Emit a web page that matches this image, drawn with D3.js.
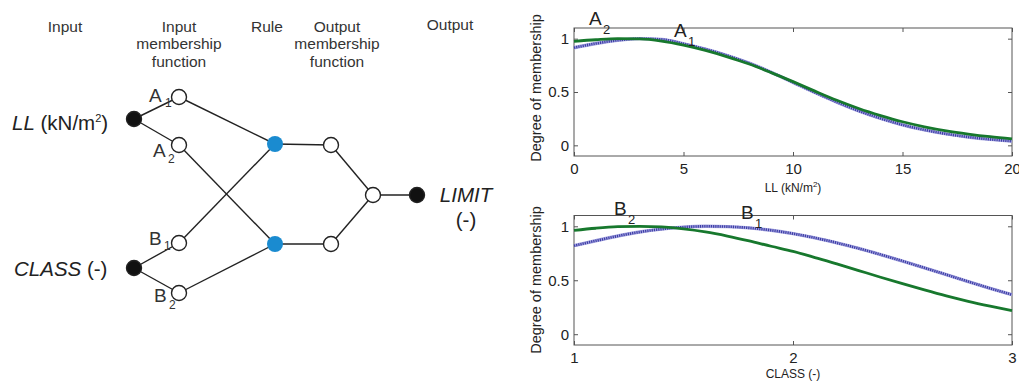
<!DOCTYPE html>
<html>
<head>
<meta charset="utf-8">
<script src="https://cdn.jsdelivr.net/npm/d3@7"></script>
<style>
  body { margin: 0; background: #fff; }
  svg { display: block; font-family: "Liberation Sans", Arial, sans-serif; }
  .axis path { display: none; }
  .axis line { stroke: #555; }
  .axis text { fill: #222; font-size: 15px; font-family: "Liberation Sans", Arial, sans-serif; }
</style>
</head>
<body>
<svg id="chart" width="1019" height="383"></svg>
<script>
// ---- data ----
// top plot: LL (kN/m2) vs degree of membership
const llX = [0, 1, 2, 3, 4, 5, 6, 7, 8, 9, 10, 11, 12, 13, 14, 15, 16, 17, 18, 19, 20];
const llA1 = [0.915, 0.955, 0.985, 1.0, 0.993, 0.952, 0.902, 0.842, 0.77, 0.685, 0.59, 0.495, 0.405, 0.323, 0.252, 0.192, 0.145, 0.107, 0.078, 0.056, 0.039];
const llA2 = [0.975, 0.99, 1.0, 0.998, 0.978, 0.94, 0.89, 0.83, 0.762, 0.682, 0.597, 0.508, 0.422, 0.345, 0.279, 0.221, 0.174, 0.136, 0.106, 0.081, 0.061];

// bottom plot: CLASS (-) vs degree of membership
const classX = [1.0, 1.1, 1.2, 1.3, 1.4, 1.5, 1.6, 1.7, 1.8, 1.9, 2.0, 2.1, 2.2, 2.3, 2.4, 2.5, 2.6, 2.7, 2.8, 2.9, 3.0];
const classB1 = [0.82, 0.866, 0.91, 0.947, 0.974, 0.992, 1.0, 0.997, 0.985, 0.963, 0.932, 0.893, 0.847, 0.795, 0.738, 0.678, 0.615, 0.552, 0.488, 0.425, 0.366];
const classB2 = [0.962, 0.982, 0.996, 1.0, 0.994, 0.976, 0.948, 0.91, 0.865, 0.815, 0.768, 0.71, 0.652, 0.59, 0.528, 0.468, 0.41, 0.355, 0.305, 0.26, 0.218];

const llTicks = [0, 5, 10, 15, 20];
const classTicks = [1, 2, 3];
const yTicks = [0, 0.5, 1];
const yTickLabels = ["0", "0.5", "1"];

// network diagram (fuzzy inference structure)
const headings = [
  { col: 0, lines: ["Input"] },
  { col: 1, lines: ["Input", "membership", "function"] },
  { col: 2, lines: ["Rule"] },
  { col: 3, lines: ["Output", "membership", "function"] },
  { col: 4, lines: ["Output"] }
];
const nodes = [
  { id: "LL", col: 0, row: 119, kind: "io" },
  { id: "CLASS", col: 0, row: 268, kind: "io" },
  { id: "A1", col: 1, row: 97, kind: "mf" },
  { id: "A2", col: 1, row: 145, kind: "mf" },
  { id: "B1", col: 1, row: 243, kind: "mf" },
  { id: "B2", col: 1, row: 293, kind: "mf" },
  { id: "R1", col: 2, row: 144, kind: "rule" },
  { id: "R2", col: 2, row: 244, kind: "rule" },
  { id: "O1", col: 3, row: 145, kind: "mf" },
  { id: "O2", col: 3, row: 244, kind: "mf" },
  { id: "AGG", col: 4, row: 195, kind: "mf" },
  { id: "LIMIT", col: 5, row: 195, kind: "io" }
];
const edges = [
  ["LL", "A1"], ["LL", "A2"], ["CLASS", "B1"], ["CLASS", "B2"],
  ["A1", "R1"], ["A2", "R2"], ["B1", "R1"], ["B2", "R2"],
  ["R1", "O1"], ["R2", "O2"], ["O1", "AGG"], ["O2", "AGG"], ["AGG", "LIMIT"]
];

const svg = d3.select("#chart");
const ink = "#222";

// ---- diagram ----
const colX = d3.scaleOrdinal().domain([0, 1, 2, 3, 4, 5]).range([134, 179, 275, 331, 373, 417]);
const headX = d3.scaleOrdinal().domain([0, 1, 2, 3, 4]).range([65, 179, 267, 337, 450]);
const byId = {};
nodes.forEach(n => { byId[n.id] = n; });

const diag = svg.append("g");

headings.forEach(h => {
  const t = diag.append("text")
    .attr("x", headX(h.col))
    .attr("y", h.col == 4 ? 30 : 31.5)
    .attr("text-anchor", "middle")
    .style("font-size", "15.5px")
    .style("fill", "#333");
  h.lines.forEach((l, i) => {
    t.append("tspan").attr("x", headX(h.col)).attr("dy", i == 0 ? 0 : 17.5).text(l);
  });
});

diag.selectAll("line.edge")
  .data(edges)
  .enter().append("line")
  .attr("class", "edge")
  .attr("x1", d => colX(byId[d[0]].col))
  .attr("y1", d => byId[d[0]].row)
  .attr("x2", d => colX(byId[d[1]].col))
  .attr("y2", d => byId[d[1]].row)
  .attr("stroke", ink)
  .attr("stroke-width", 1.4);

// membership labels (drawn before nodes so the circles sit over the subscripts)
const mfLabels = [
  { id: "A1", x: 149, y: 102, sx: 165, sy: 107 },
  { id: "A2", x: 153, y: 157, sx: 168, sy: 163 },
  { id: "B1", x: 149, y: 245, sx: 164, sy: 250 },
  { id: "B2", x: 154, y: 302, sx: 169, sy: 309 }
];
mfLabels.forEach(m => {
  diag.append("text").attr("x", m.x).attr("y", m.y)
    .style("font-size", "19px").style("fill", "#333").text(m.id[0]);
  diag.append("text").attr("x", m.sx).attr("y", m.sy)
    .style("font-size", "12px").style("fill", "#333").text(m.id[1]);
});

diag.selectAll("circle.node")
  .data(nodes)
  .enter().append("circle")
  .attr("class", "node")
  .attr("cx", d => colX(d.col))
  .attr("cy", d => d.row)
  .attr("r", d => d.kind == "rule" ? 8 : 7.5)
  .attr("fill", d => d.kind == "io" ? "#111" : d.kind == "rule" ? "#1a8bd0" : "#fff")
  .attr("stroke", d => d.kind == "rule" ? "none" : ink)
  .attr("stroke-width", 1.4);

// input / output names
const ll = diag.append("text").attr("x", 12).attr("y", 130).style("font-size", "20.5px").style("fill", "#222");
ll.append("tspan").style("font-style", "italic").text("LL");
ll.append("tspan").text(" (kN/m");
ll.append("tspan").attr("dy", -8).style("font-size", "11px").text("2");
ll.append("tspan").attr("dy", 8).text(")");

const cl = diag.append("text").attr("x", 14).attr("y", 276).style("font-size", "20.5px").style("fill", "#222");
cl.append("tspan").style("font-style", "italic").text("CLASS");
cl.append("tspan").text(" (-)");

diag.append("text").attr("x", 466).attr("y", 202).attr("text-anchor", "middle")
  .style("font-size", "20.5px").style("font-style", "italic").style("fill", "#222").text("LIMIT");
diag.append("text").attr("x", 466).attr("y", 227).attr("text-anchor", "middle")
  .style("font-size", "20.5px").style("fill", "#222").text("(-)");

// ---- membership plots ----
function drawPlot(opts) {
  const x = d3.scaleLinear().domain(opts.xDomain).range([574, 1012]);
  const y = d3.scaleLinear().domain([-0.1, 1.1]).range([opts.bottom, opts.top]);
  const g = svg.append("g");
  const h = opts.bottom - opts.top;

  g.append("g").attr("class", "axis")
    .attr("transform", `translate(0,${opts.bottom})`)
    .call(d3.axisBottom(x).tickValues(opts.xTicks).tickSizeInner(-4).tickSizeOuter(0).tickPadding(7).tickFormat(d3.format("d")));
  g.append("g").attr("class", "axis")
    .attr("transform", `translate(0,${opts.top})`)
    .call(d3.axisTop(x).tickValues(opts.xTicks).tickSizeInner(-4).tickSizeOuter(0).tickFormat(""));
  g.append("g").attr("class", "axis")
    .attr("transform", "translate(574,0)")
    .call(d3.axisLeft(y).tickValues(yTicks).tickSizeInner(-4).tickSizeOuter(0).tickPadding(5)
      .tickFormat((d, i) => yTickLabels[i]));
  g.append("g").attr("class", "axis")
    .attr("transform", "translate(1012,0)")
    .call(d3.axisRight(y).tickValues(yTicks).tickSizeInner(-4).tickSizeOuter(0).tickFormat(""));

  g.append("rect")
    .attr("x", 574).attr("y", opts.top)
    .attr("width", 438).attr("height", h)
    .attr("fill", "none").attr("stroke", "#555").attr("stroke-width", 1);

  const line = d3.line()
    .x((d, i) => x(opts.xs[i]))
    .y(d => y(d))
    .curve(d3.curveMonotoneX);

  // dotted blue curve
  g.append("path").attr("d", line(opts.dotted))
    .attr("fill", "none").attr("stroke", "#a6a6e0").attr("stroke-width", 3.4);
  g.append("path").attr("d", line(opts.dotted))
    .attr("fill", "none").attr("stroke", "#3d3da6").attr("stroke-width", 2.6)
    .attr("stroke-dasharray", "1.2,1");
  // solid green curve
  g.append("path").attr("d", line(opts.solid))
    .attr("fill", "none").attr("stroke", "#17782d").attr("stroke-width", 2.8);

  // axis titles
  const xl = g.append("text").attr("x", 793).attr("y", opts.xLabelY)
    .attr("text-anchor", "middle").style("font-size", "12px").style("fill", "#222");
  opts.xLabel(xl);

  g.append("text")
    .attr("transform", `translate(541,${opts.yLabelY}) rotate(-90)`)
    .attr("text-anchor", "middle")
    .style("font-size", "14.5px").style("fill", "#222")
    .text("Degree of membership");

  opts.curveLabels.forEach(c => {
    g.append("text").attr("x", c.x).attr("y", c.y)
      .style("font-size", "19px").style("fill", "#222").text(c.t[0]);
    g.append("text").attr("x", c.x + 14).attr("y", c.y + 9)
      .style("font-size", "13px").style("fill", "#222").text(c.t[1]);
  });
}

drawPlot({
  xDomain: [0, 20], xTicks: llTicks, top: 28, bottom: 156,
  xs: llX, dotted: llA1, solid: llA2, yLabelY: 88, xLabelY: 192,
  xLabel: t => {
    t.append("tspan").text("LL (kN/m");
    t.append("tspan").attr("dy", -5).style("font-size", "8px").text("2");
    t.append("tspan").attr("dy", 5).text(")");
  },
  curveLabels: [{ t: "A2", x: 589, y: 25 }, { t: "A1", x: 674, y: 37 }]
});

drawPlot({
  xDomain: [1, 3], xTicks: classTicks, top: 215.5, bottom: 345,
  xs: classX, dotted: classB1, solid: classB2, yLabelY: 280, xLabelY: 378,
  xLabel: t => t.text("CLASS (-)"),
  curveLabels: [{ t: "B2", x: 614, y: 215 }, { t: "B1", x: 741, y: 219 }]
});
</script>
</body>
</html>
